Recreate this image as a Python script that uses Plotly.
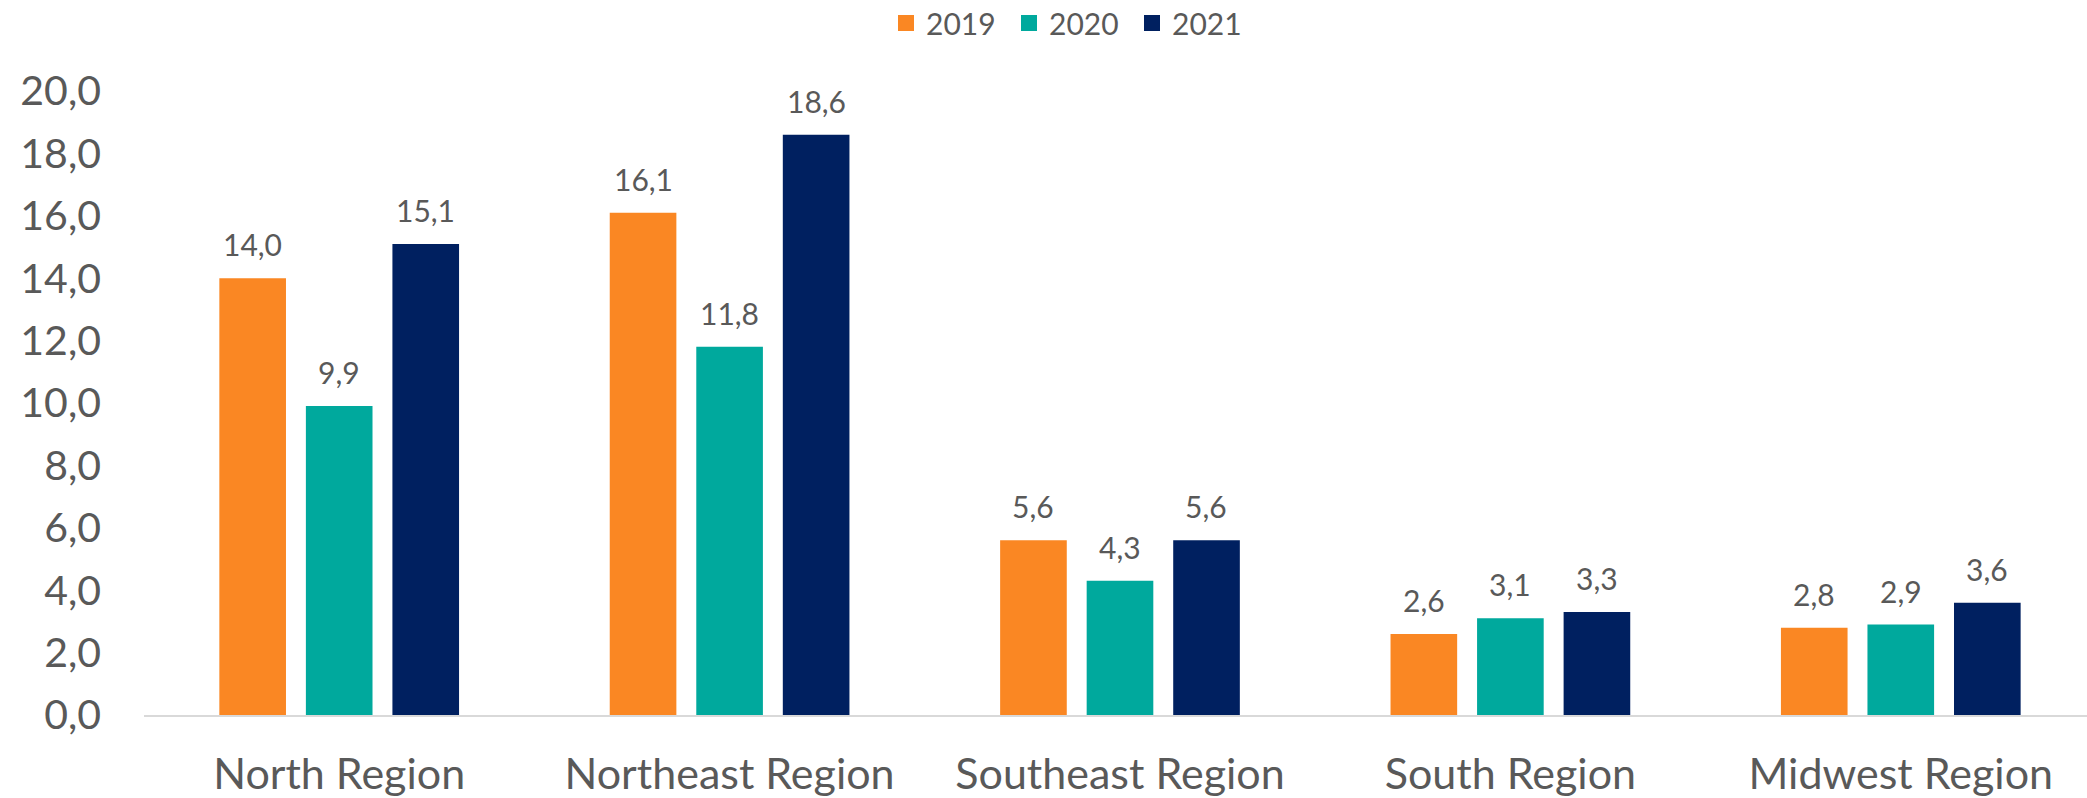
import plotly.graph_objects as go

categories = ["North Region", "Northeast Region", "Southeast Region", "South Region", "Midwest Region"]
series_names = ["2019", "2020", "2021"]
values_2019 = [14.0, 16.1, 5.6, 2.6, 2.8]
values_2020 = [9.9, 11.8, 4.3, 3.1, 2.9]
values_2021 = [15.1, 18.6, 5.6, 3.3, 3.6]
colors = ["#FA8723", "#00A99D", "#002060"]

FONT = "Lato"
GRAY = "#595959"
BAR_PITCH_PX = 86.5

fig = go.Figure()
all_series = [values_2019, values_2020, values_2021]
for i, (name, vals, col) in enumerate(zip(series_names, all_series, colors)):
    fig.add_trace(go.Bar(
        name=name, x=categories, y=vals, marker_color=col, marker_line_width=0,
        showlegend=False, hoverinfo="x+y",
    ))
    for c, v in zip(categories, vals):
        fig.add_annotation(
            x=c, y=v, text=f"{v:.1f}".replace(".", ","), showarrow=False,
            xanchor="center", yanchor="bottom", xshift=(i - 1) * BAR_PITCH_PX, yshift=14,
            font=dict(family=FONT, size=30, color=GRAY),
        )

# legend entries with larger square swatches
for name, col in zip(series_names, colors):
    fig.add_trace(go.Scatter(
        name=name, x=[None], y=[None], mode="markers",
        marker=dict(symbol="square", size=18, color=col), showlegend=True,
    ))

fig.update_layout(
    width=2087, height=798,
    paper_bgcolor="white", plot_bgcolor="white",
    separators=",.",
    barmode="group", bargap=0.335, bargroupgap=0.23,
    margin=dict(l=144, r=0, t=91, b=78),
    font=dict(family=FONT, color=GRAY),
    legend=dict(orientation="h", xref="container", x=886 / 2087, xanchor="left",
                y=1 - 23 / 798, yref="container", yanchor="middle",
                font=dict(family=FONT, size=30, color=GRAY),
                traceorder="normal", itemwidth=30, entrywidth=78, entrywidthmode="pixels"),
    xaxis=dict(showline=True, linecolor="#D9D9D9", linewidth=2, showgrid=False,
               tickfont=dict(family=FONT, size=43, color=GRAY), ticks="", ticklabelstandoff=20,
               range=[-0.5, 4.477]),
    yaxis=dict(range=[0, 20], dtick=2, tickformat=".1f", showgrid=False, zeroline=False,
               tickfont=dict(family=FONT, size=41, color=GRAY), ticks="", ticklabelstandoff=42),
)

fig.write_html("out.html", config={"displayModeBar": False},
               post_script="document.body.style.margin='0';document.body.style.overflow='hidden';")
